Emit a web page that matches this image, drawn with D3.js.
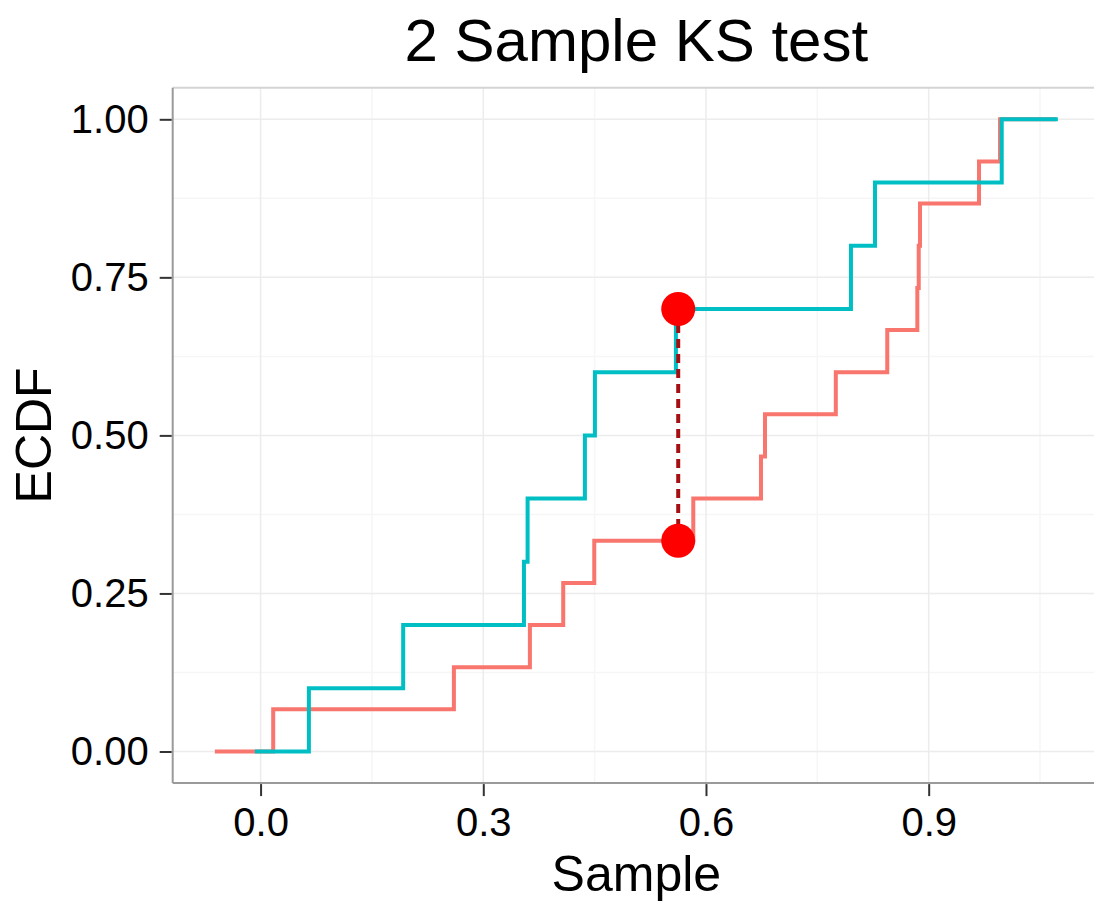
<!DOCTYPE html>
<html>
<head>
<meta charset="utf-8">
<script src="https://cdn.jsdelivr.net/npm/d3@7"></script>
<style>
  body { margin: 0; background: #fff; }
  text { font-family: "Liberation Sans", Arial, Helvetica, sans-serif; fill: #000; }
</style>
</head>
<body>
<svg id="chart" width="1094" height="906"></svg>
<script>
// Two samples compared with a two-sample Kolmogorov–Smirnov test
const sampleA = [0.0170, 0.2604, 0.3628, 0.4077, 0.4495, 0.5829, 0.6741, 0.6795,
                 0.7749, 0.8442, 0.8847, 0.8866, 0.8883, 0.9678, 0.9961];
const sampleB = [0.0651, 0.1921, 0.3548, 0.3597, 0.4369, 0.4504, 0.5595, 0.7953,
                 0.8277, 0.9984];
// horizontal reach of each step curve (before first / after last observation)
const extentA = [-0.0616, 1.0717];
const extentB = [-0.0077, 1.0740];
// location of the largest vertical gap between the two ECDFs
const ksX = [0.5626, 0.5626];
const ksY = [0.7, 1 / 3];

const xTicks = [0.0, 0.3, 0.6, 0.9];
const xMinor = [0.15, 0.45, 0.75, 1.05];
const yTicks = [0.00, 0.25, 0.50, 0.75, 1.00];
const yMinor = [0.125, 0.375, 0.625, 0.875];

const colorA = "#F8766D";
const colorB = "#00BFC4";

const svg = d3.select("#chart");
const panel = { left: 172.7, right: 1100, top: 87.7, bottom: 783.1 };

// ggplot-style 5% expansion of the data range
const allX = [...extentA, ...extentB, ...sampleA, ...sampleB];
const [xmin, xmax] = d3.extent(allX);
const pad = (xmax - xmin) * 0.05;
const x = d3.scaleLinear().domain([xmin - pad, xmax + pad]).range([panel.left, panel.right]);
const y = d3.scaleLinear().domain([-0.05, 1.05]).range([panel.bottom, panel.top]);

// panel background
svg.append("rect")
  .attr("x", panel.left).attr("y", panel.top)
  .attr("width", panel.right - panel.left).attr("height", panel.bottom - panel.top)
  .attr("fill", "#fff");

const grid = svg.append("g");
grid.selectAll(".vminor").data(xMinor).join("line")
  .attr("x1", d => x(d)).attr("x2", d => x(d))
  .attr("y1", panel.top).attr("y2", panel.bottom)
  .attr("stroke", "#f6f6f6").attr("stroke-width", 1.5);
grid.selectAll(".hminor").data(yMinor).join("line")
  .attr("y1", d => y(d)).attr("y2", d => y(d))
  .attr("x1", panel.left).attr("x2", panel.right)
  .attr("stroke", "#f6f6f6").attr("stroke-width", 1.5);
grid.selectAll(".vmajor").data(xTicks).join("line")
  .attr("x1", d => x(d)).attr("x2", d => x(d))
  .attr("y1", panel.top).attr("y2", panel.bottom)
  .attr("stroke", "#ececec").attr("stroke-width", 1.5);
grid.selectAll(".hmajor").data(yTicks).join("line")
  .attr("y1", d => y(d)).attr("y2", d => y(d))
  .attr("x1", panel.left).attr("x2", panel.right)
  .attr("stroke", "#ececec").attr("stroke-width", 1.5);

// empirical CDF as a step function
function ecdfPoints(values, extent) {
  const s = values.slice().sort((a, b) => a - b);
  const n = s.length;
  const pts = [[extent[0], 0]];
  s.forEach((v, i) => pts.push([v, (i + 1) / n]));
  pts.push([extent[1], 1]);
  return pts;
}

const step = d3.line()
  .x(d => x(d[0])).y(d => y(d[1]))
  .curve(d3.curveStepAfter);

svg.append("path")
  .attr("d", step(ecdfPoints(sampleA, extentA)))
  .attr("fill", "none").attr("stroke", colorA).attr("stroke-width", 4)
  .attr("stroke-linejoin", "miter");
svg.append("path")
  .attr("d", step(ecdfPoints(sampleB, extentB)))
  .attr("fill", "none").attr("stroke", colorB).attr("stroke-width", 4)
  .attr("stroke-linejoin", "miter");

// KS statistic: dashed segment plus end points
svg.append("line")
  .attr("x1", x(ksX[0])).attr("x2", x(ksX[1]))
  .attr("y1", y(ksY[0])).attr("y2", y(ksY[1]))
  .attr("stroke", "#a40f14").attr("stroke-width", 4)
  .attr("stroke-dasharray", "9,6");
svg.selectAll(".ks").data(ksX.map((v, i) => [v, ksY[i]])).join("circle")
  .attr("cx", d => x(d[0])).attr("cy", d => y(d[1]))
  .attr("r", 17).attr("fill", "#ff0000");

// panel border
svg.append("line")
  .attr("x1", panel.left).attr("x2", panel.right)
  .attr("y1", panel.top).attr("y2", panel.top)
  .attr("stroke", "#d4d4d4").attr("stroke-width", 2);
svg.append("line")
  .attr("x1", panel.left).attr("x2", panel.left)
  .attr("y1", panel.top).attr("y2", panel.bottom)
  .attr("stroke", "#9a9a9a").attr("stroke-width", 2);
svg.append("line")
  .attr("x1", panel.left).attr("x2", panel.right)
  .attr("y1", panel.bottom).attr("y2", panel.bottom)
  .attr("stroke", "#9a9a9a").attr("stroke-width", 2);

// axes
const xAxis = d3.axisBottom(x).tickValues(xTicks).tickFormat(d3.format(".1f"))
  .tickSize(12).tickPadding(12);
const gx = svg.append("g").attr("transform", `translate(0,${panel.bottom + 1})`).call(xAxis);
gx.select(".domain").remove();
gx.selectAll(".tick line").attr("stroke", "#333").attr("stroke-width", 2);
gx.selectAll(".tick text").attr("font-size", 40).attr("fill", "#000")
  .style("font-family", '"Liberation Sans", Arial, sans-serif');

const yAxis = d3.axisLeft(y).tickValues(yTicks).tickFormat(d3.format(".2f"))
  .tickSize(12).tickPadding(11);
const gy = svg.append("g").attr("transform", `translate(${panel.left - 1},0)`).call(yAxis);
gy.select(".domain").remove();
gy.selectAll(".tick line").attr("stroke", "#333").attr("stroke-width", 2);
gy.selectAll(".tick text").attr("font-size", 40).attr("fill", "#000")
  .style("font-family", '"Liberation Sans", Arial, sans-serif');

// titles
const cx = (panel.left + panel.right) / 2;
svg.append("text").attr("x", cx).attr("y", 61)
  .attr("text-anchor", "middle").attr("font-size", 60).text("2 Sample KS test");
svg.append("text").attr("x", cx).attr("y", 891)
  .attr("text-anchor", "middle").attr("font-size", 50).text("Sample");
svg.append("text")
  .attr("transform", `translate(51,${(panel.top + panel.bottom) / 2}) rotate(-90)`)
  .attr("text-anchor", "middle").attr("font-size", 50).text("ECDF");
</script>
</body>
</html>
